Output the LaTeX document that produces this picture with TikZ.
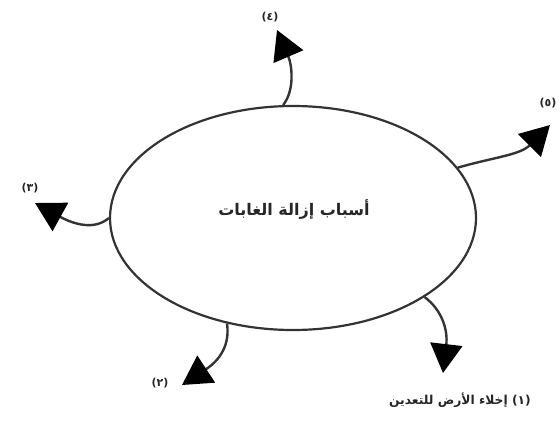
\documentclass[tikz,border=0pt]{standalone}
\usepackage{fontspec}
\usetikzlibrary{shapes.geometric,arrows.meta}
\TeXXeTstate=1
\newfontfamily\arabicfont[Script=Arabic]{DejaVu Sans}
\begin{document}
\begin{tikzpicture}[x=1pt,y=-1pt,
  conn/.style={line width=2.4pt,draw=black!80,-{Triangle[length=29pt,width=32pt,fill=black,color=black]}},
  numlbl/.style={font=\arabicfont\fontsize{11}{12}\selectfont\bfseries,text=black!85,inner sep=0pt}]
\useasboundingbox (0,0) rectangle (560,421);
\node[ellipse,draw=black!80,line width=2.2pt,minimum width=366pt,minimum height=224pt,inner sep=0pt] (ell) at (293,218) {};
\node[font=\arabicfont\fontsize{16}{18}\selectfont\bfseries,text=black!85] (title) at (294,210) {\beginR أسباب إزالة الغابات\endR};
\coordinate (t4) at (277,30);
\coordinate (t5) at (550,125);
\coordinate (t3) at (35,203);
\coordinate (t2) at (182,385);
\coordinate (t1) at (443,373);
\draw[conn] (ell.95) .. controls (295,90) and (292,65) .. (t4);
\draw[conn] (ell.17) .. controls (495,157) and (520,155) .. (t5);
\draw[conn] (ell.180) .. controls (95,230) and (75,225) .. (t3);
\draw[conn] (ell.238) .. controls (230,345) and (220,360) .. (t2);
\draw[conn] (ell.-31) .. controls (442,310) and (448,330) .. (t1);
\node[numlbl] (l4) at (270,17) {(٤)};
\node[numlbl] (l5) at (548,103) {(٥)};
\node[numlbl] (l3) at (30,188) {(٣)};
\node[numlbl] (l2) at (160,383) {(٢)};
\node[numlbl,font=\arabicfont\fontsize{12.3}{14}\selectfont\bfseries] (l1) at (460,400) {\beginR إخلاء الأرض للتعدين\endR\ (١)};
\end{tikzpicture}
\end{document}
